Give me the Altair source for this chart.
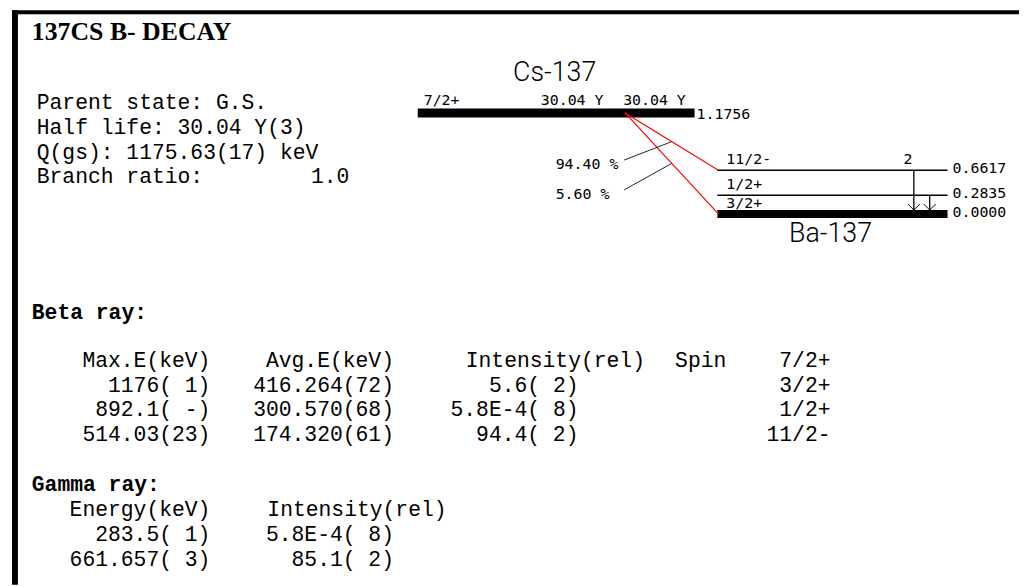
import altair as alt
import pandas as pd

# ------------------------------------------------------------------ data
TITLE = "137CS B- DECAY"

info_lines = ["Parent state: G.S.", "Half life: 30.04 Y(3)",
              "Q(gs): 1175.63(17) keV", "Branch ratio:"]
branch_ratio = "1.0"

parent_name = "Cs-137"
parent_spin = "7/2+"
parent_halflife = ["30.04 Y", "30.04 Y"]
parent_energy = 1.1756            # MeV

daughter_name = "Ba-137"
level_energy = [0.6617, 0.2835, 0.0000]   # MeV
level_spin = ["11/2-", "1/2+", "3/2+"]
level_mark = "2"                  # label above the 11/2- level

beta_to_level = [0.6617, 0.0000]
beta_branch = [94.40, 5.60]       # %

gamma_from = [0.6617, 0.2835]
gamma_to = [0.0000, 0.0000]

beta_headers = ["Max.E(keV)", "Avg.E(keV)", "Intensity(rel)", "Spin"]
beta_parent_spin = "7/2+"
beta_max_e = ["1176( 1)", "892.1( -)", "514.03(23)"]
beta_avg_e = ["416.264(72)", "300.570(68)", "174.320(61)"]
beta_intensity = ["5.6( 2)", "5.8E-4( 8)", "94.4( 2)"]
beta_spin = ["3/2+", "1/2+", "11/2-"]

gamma_headers = ["Energy(keV)", "Intensity(rel)"]
gamma_energy = ["283.5( 1)", "661.657( 3)"]
gamma_intensity = ["5.8E-4( 8)", "85.1( 2)"]

# ------------------------------------------------------------------ layout
W, H = 1019, 579
xs = alt.Scale(domain=[8, 8 + W], nice=False, zero=False)
ys = alt.Scale(domain=[8, 8 + H], nice=False, zero=False, reverse=True)

MONO = "Liberation Mono"
CAD = "DejaVu Sans Mono"

GROUND_Y = 213.3
PX_PER_MEV = 66.5
def level_y(e):
    return GROUND_Y - e * PX_PER_MEV

PARENT_Y = 111.5
LV_X0, LV_X1 = 723, 955
FEED_X = 630


def X(f="x"):
    return alt.X(f"{f}:Q", scale=xs, axis=None)


def Y(f="y"):
    return alt.Y(f"{f}:Q", scale=ys, axis=None)


def rule_layer(rows, color="black", width=1.0):
    df = pd.DataFrame(rows, columns=["x", "y", "x2", "y2"])
    return alt.Chart(df).mark_rule(color=color, strokeWidth=width).encode(
        x=X(), y=Y(), x2="x2:Q", y2="y2:Q")


def rect_layer(rows, color="black"):
    df = pd.DataFrame(rows, columns=["x", "y", "x2", "y2"])
    return alt.Chart(df).mark_rect(color=color).encode(
        x=X(), y=Y(), x2="x2:Q", y2="y2:Q")


def text_layer(rows, font, size, align="left", weight="normal", color="black"):
    df = pd.DataFrame(rows, columns=["x", "y", "t"])
    return alt.Chart(df).mark_text(font=font, fontSize=size, align=align,
                                   baseline="middle", fontWeight=weight,
                                   color=color).encode(x=X(), y=Y(), text="t:N")


layers = []

# frame
layers.append(rect_layer([(12, 8, 1027, 12), (12, 8, 18, 587)]))

# title and parent info
layers.append(text_layer([(32, 30, TITLE)], "Liberation Serif", 26, weight="bold"))
info_y = [102, 127, 152, 176]
layers.append(text_layer([(37, y, t) for y, t in zip(info_y, info_lines)], MONO, 21.5))
layers.append(text_layer([(352, info_y[-1], branch_ratio)], MONO, 21.5, align="right"))

# ---- decay scheme
layers.append(rect_layer([(421, PARENT_Y - 4.5, 700, PARENT_Y + 4.5),
                          (LV_X0, GROUND_Y - 4, LV_X1, GROUND_Y + 4)]))
layers.append(rule_layer([(LV_X0, level_y(e), LV_X1, level_y(e))
                          for e in level_energy if e > 0], width=1.5))

# beta feeds (red)
feed_end = [(LV_X0 + 1, level_y(e)) for e in beta_to_level]
layers.append(rule_layer([(FEED_X, PARENT_Y, xe, ye) for xe, ye in feed_end],
                         color="#ff0000", width=1.2))

# branch labels + pointers
pct_y = [163, 193]
ptr_x = 677
ptr_rows = []
for (xe, ye), py in zip(feed_end, pct_y):
    yy = PARENT_Y + (ptr_x - FEED_X) / (xe - FEED_X) * (ye - PARENT_Y)
    ptr_rows.append((629, py - 4, ptr_x, yy))
layers.append(rule_layer(ptr_rows, color="#222222", width=1.0))
layers.append(text_layer([(560, py, f"{b:.2f} %") for b, py in zip(beta_branch, pct_y)],
                         CAD, 15))

# gamma arrows
g_x = [921, 937]
g_rows, head_rows = [], []
for gx, ef, et in zip(g_x, gamma_from, gamma_to):
    ytop, ybot = level_y(ef), level_y(et) - 4
    g_rows.append((gx, ytop, gx, ybot))
    head_rows.append((gx - 6, ybot - 6, gx, ybot))
    head_rows.append((gx + 6, ybot - 6, gx, ybot))
layers.append(rule_layer(g_rows, width=1.3))
layers.append(rule_layer(head_rows, width=1.0))

# level texts
small = []
small.append((427, 98, parent_spin))
small.append((545, 98, parent_halflife[0]))
small.append((628, 98, parent_halflife[1]))
small.append((702, 113, f"{parent_energy:.4f}"))
for e, s in zip(level_energy, level_spin):
    small.append((732, level_y(e) - 11, s))
    small.append((960, level_y(e) - 2, f"{e:.4f}"))
layers.append(text_layer(small, CAD, 15))
layers.append(text_layer([(915, level_y(level_energy[0]) - 11, level_mark)], CAD, 15,
                         align="center"))

# nuclide names
layers.append(text_layer([(559, 71, parent_name), (837, 234, daughter_name)],
                         "Roboto", 27, align="center", weight=300))

# ---- tables
layers.append(text_layer([(32, 313, "Beta ray:"), (32, 487, "Gamma ray:")],
                         MONO, 21.5, weight="bold"))

beta_hdr_y, beta_row_y = 362, [387, 411, 436]
rt = [(212, beta_hdr_y, beta_headers[0]), (397, beta_hdr_y, beta_headers[1]),
      (650, beta_hdr_y, beta_headers[2]), (732, beta_hdr_y, beta_headers[3]),
      (837, beta_hdr_y, beta_parent_spin)]
for y, a, b, c, d in zip(beta_row_y, beta_max_e, beta_avg_e, beta_intensity, beta_spin):
    rt += [(212, y, a), (397, y, b), (583, y, c), (837, y, d)]

gam_hdr_y, gam_row_y = 512, [537, 562]
rt += [(212, gam_hdr_y, gamma_headers[0]), (450, gam_hdr_y, gamma_headers[1])]
for y, a, b in zip(gam_row_y, gamma_energy, gamma_intensity):
    rt += [(212, y, a), (397, y, b)]
layers.append(text_layer(rt, MONO, 21.5, align="right"))

chart = alt.layer(*layers).properties(
    width=W, height=H, autosize="none", padding=0, background="white"
).configure_view(stroke=None)

chart.save("out.html", embed_options={"renderer": "svg", "actions": False})
